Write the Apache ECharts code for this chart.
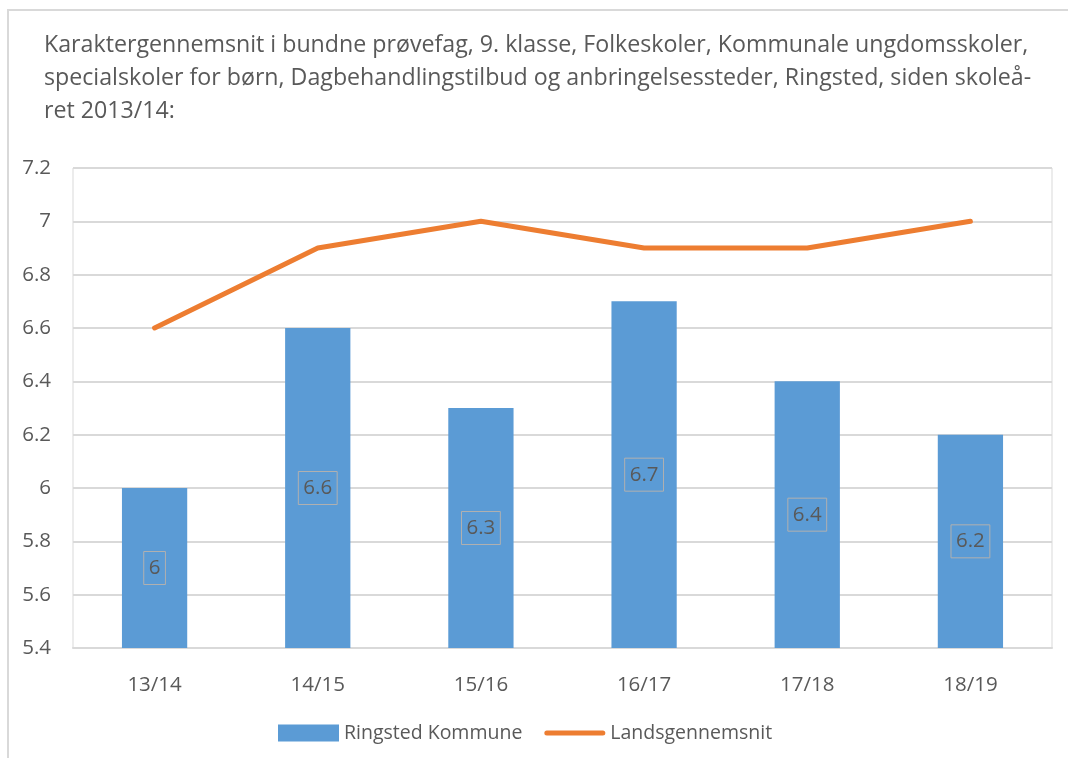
<!DOCTYPE html>
<html>
<head>
<meta charset="utf-8">
<script src="https://cdn.jsdelivr.net/npm/echarts@6/dist/echarts.min.js"></script>
<style>
  html, body { margin: 0; padding: 0; background: #fff; }
  #chart-root { width: 1068px; height: 758px; }
</style>
</head>
<body>
<div id="chart-root"></div>
<script>
  const titleLines = [
    'Karaktergennemsnit i bundne prøvefag, 9. klasse, Folkeskoler, Kommunale ungdomsskoler,',
    'specialskoler for børn, Dagbehandlingstilbud og anbringelsessteder, Ringsted, siden skoleå-',
    'ret 2013/14:'
  ];
  const categories = ['13/14', '14/15', '15/16', '16/17', '17/18', '18/19'];
  const ringsted = [6, 6.6, 6.3, 6.7, 6.4, 6.2];
  const landsgennemsnit = [6.6, 6.9, 7, 6.9, 6.9, 7];

  const font = 'Open Sans';
  const grey = '#595959';
  const root = document.getElementById('chart-root');
  const chart = echarts.init(root);

  chart.setOption({
    animation: false,
    textStyle: { fontFamily: font, color: grey },
    graphic: [{
      type: 'rect',
      shape: { x: 8, y: 10, width: 1100, height: 800 },
      style: { fill: 'none', stroke: '#d9d9d9', lineWidth: 2 },
      silent: true
    }],
    title: {
      text: titleLines.join('\n'),
      left: 39,
      top: 24,
      textStyle: { fontFamily: font, fontSize: 23.2, fontWeight: 'normal', color: grey, lineHeight: 33 }
    },
    grid: {
      left: 73, right: 16, top: 168, bottom: 110,
      show: true, borderColor: '#d9d9d9', borderWidth: 1
    },
    legend: {
      bottom: 10,
      left: 273,
      itemWidth: 61,
      itemHeight: 17,
      itemGap: 22,
      symbolKeepAspect: true,
      textStyle: { fontFamily: font, fontSize: 19.5, color: grey },
      data: [
        { name: 'Ringsted Kommune', icon: 'rect' },
        { name: 'Landsgennemsnit', icon: 'path://M2.5,0 H58.5 A2.5,2.5 0 0 1 58.5,5 H2.5 A2.5,2.5 0 0 1 2.5,0 Z' }
      ]
    },
    xAxis: {
      type: 'category',
      data: categories,
      axisTick: { show: false },
      axisLine: { lineStyle: { color: '#d9d9d9', width: 2 } },
      axisLabel: { fontFamily: font, fontSize: 20.5, color: grey, margin: 27 }
    },
    yAxis: {
      type: 'value',
      min: 5.4,
      max: 7.2,
      interval: 0.2,
      axisLine: { show: false },
      axisTick: { show: false },
      splitLine: { lineStyle: { color: '#d9d9d9', width: 2 } },
      axisLabel: { fontFamily: font, fontSize: 20.5, color: grey, margin: 22 }
    },
    series: [
      {
        name: 'Ringsted Kommune',
        type: 'bar',
        data: ringsted,
        barWidth: '40%',
        itemStyle: { color: '#5b9bd5' },
        label: {
          show: true,
          position: 'inside',
          fontFamily: font,
          fontSize: 20.5,
          color: grey,
          borderColor: '#b0b0b0',
          borderWidth: 1,
          padding: [7, 5, 5, 5]
        }
      },
      {
        name: 'Landsgennemsnit',
        type: 'line',
        data: landsgennemsnit,
        symbol: 'none',
        lineStyle: { color: '#ed7d31', width: 5, cap: 'round', join: 'round' },
        itemStyle: { color: '#ed7d31' }
      }
    ]
  });
</script>
</body>
</html>
